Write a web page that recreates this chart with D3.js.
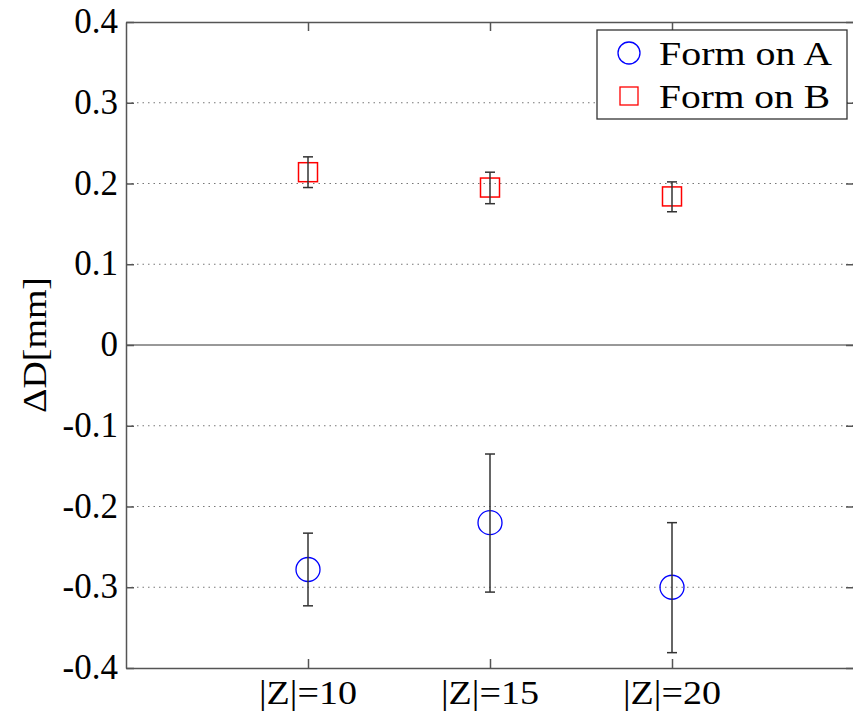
<!DOCTYPE html>
<html>
<head>
<meta charset="utf-8">
<script src="https://cdn.jsdelivr.net/npm/d3@7"></script>
<style>
body { margin: 0; background: #fff; }
</style>
</head>
<body>
<script>
// categories and measurements
var categories = ["|Z|=10", "|Z|=15", "|Z|=20"];
var formA = [-0.278, -0.220, -0.300];
var formALow = [-0.323, -0.306, -0.381];
var formAHigh = [-0.233, -0.135, -0.220];
var formB = [0.214, 0.195, 0.184];
var formBLow = [0.195, 0.175, 0.165];
var formBHigh = [0.233, 0.214, 0.202];
var yTicks = [-0.4, -0.3, -0.2, -0.1, 0, 0.1, 0.2, 0.3, 0.4];
var seriesNames = ["Form on A", "Form on B"];

var w = 853;
var h = 713;
var pLeft = 126, pTop = 22, pRight = 854, pBottom = 668;
var serif = "'Liberation Serif', 'DejaVu Serif', serif";

var svg = d3.select("body")
			.append("svg")
			.attr("width", w)
			.attr("height", h)
			.attr("font-family", serif);

var x = d3.scaleLinear().domain([0, 4]).range([pLeft, pRight]);
var y = d3.scaleLinear().domain([-0.4, 0.4]).range([pBottom, pTop]);

// dotted grid
svg.selectAll("line.grid")
	.data(yTicks.filter(function(d) { return d != 0 && Math.abs(d) < 0.4; }))
	.enter()
	.append("line")
	.attr("class", "grid")
	.attr("x1", pLeft)
	.attr("x2", pRight)
	.attr("y1", function(d) { return y(d); })
	.attr("y2", function(d) { return y(d); })
	.attr("stroke", "#777")
	.attr("stroke-width", 1.2)
	.attr("stroke-dasharray", "1.5,4");

// zero line
svg.append("line")
	.attr("x1", pLeft).attr("x2", pRight)
	.attr("y1", y(0)).attr("y2", y(0))
	.attr("stroke", "#333")
	.attr("stroke-width", 1);

// axes box with inward ticks
var yAxis = d3.axisLeft(y).tickValues(yTicks).tickSize(-8).tickFormat("").tickSizeOuter(0);
var yAxisR = d3.axisRight(y).tickValues(yTicks).tickSize(-8).tickFormat("").tickSizeOuter(0);
var xIdx = [1, 2, 3];
var xAxis = d3.axisBottom(x).tickValues(xIdx).tickSize(-9).tickFormat("").tickSizeOuter(0);
var xAxisT = d3.axisTop(x).tickValues(xIdx).tickSize(-9).tickFormat("").tickSizeOuter(0);

svg.append("g").attr("transform", "translate(" + pLeft + ",0)").call(yAxis);
svg.append("g").attr("transform", "translate(" + pRight + ",0)").call(yAxisR);
svg.append("g").attr("transform", "translate(0," + pBottom + ")").call(xAxis);
svg.append("g").attr("transform", "translate(0," + pTop + ")").call(xAxisT);
svg.selectAll(".domain, .tick line")
	.attr("stroke", "#555")
	.attr("stroke-width", 1.5);

// tick labels
svg.selectAll("text.ylab")
	.data(yTicks)
	.enter()
	.append("text")
	.attr("class", "ylab")
	.text(function(d) { return d == 0 ? "0" : d.toFixed(1); })
	.attr("text-anchor", "end")
	.attr("x", 118)
	.attr("y", function(d) { return y(d) + 11; })
	.attr("font-family", serif)
	.attr("font-size", "35px")
	.attr("fill", "#000");

svg.selectAll("text.xlab")
	.data(categories)
	.enter()
	.append("text")
	.attr("class", "xlab")
	.text(function(d) { return d; })
	.attr("text-anchor", "middle")
	.attr("x", function(d, i) { return x(i + 1); })
	.attr("y", 704)
	.attr("font-family", serif)
	.attr("font-size", "33px")
	.attr("textLength", 98)
	.attr("lengthAdjust", "spacingAndGlyphs")
	.attr("fill", "#000");

svg.append("text")
	.text("ΔD[mm]")
	.attr("text-anchor", "middle")
	.attr("transform", "translate(46," + y(0) + ") rotate(-90)")
	.attr("font-family", serif)
	.attr("font-size", "33px")
	.attr("textLength", 136)
	.attr("lengthAdjust", "spacingAndGlyphs")
	.attr("fill", "#000");

// error bars
function errorBars(lo, hi) {
	var g = svg.append("g");
	lo.forEach(function(d, i) {
		var cx = x(i + 1);
		g.append("line").attr("x1", cx).attr("x2", cx).attr("y1", y(lo[i])).attr("y2", y(hi[i]));
		g.append("line").attr("x1", cx - 5).attr("x2", cx + 5).attr("y1", y(lo[i])).attr("y2", y(lo[i]));
		g.append("line").attr("x1", cx - 5).attr("x2", cx + 5).attr("y1", y(hi[i])).attr("y2", y(hi[i]));
	});
	g.selectAll("line").attr("stroke", "#333").attr("stroke-width", 1.5);
}

// markers
svg.selectAll("rect.b")
	.data(formB)
	.enter()
	.append("rect")
	.attr("class", "b")
	.attr("x", function(d, i) { return x(i + 1) - 9.5; })
	.attr("y", function(d) { return y(d) - 9.5; })
	.attr("width", 19)
	.attr("height", 19)
	.attr("fill", "none")
	.attr("stroke", "#f00")
	.attr("stroke-width", 1.5);
errorBars(formBLow, formBHigh);

svg.selectAll("circle.a")
	.data(formA)
	.enter()
	.append("circle")
	.attr("class", "a")
	.attr("cx", function(d, i) { return x(i + 1); })
	.attr("cy", function(d) { return y(d); })
	.attr("r", 12)
	.attr("fill", "none")
	.attr("stroke", "#00f")
	.attr("stroke-width", 1.3);
errorBars(formALow, formAHigh);

// legend
var lg = svg.append("g");
lg.append("rect")
	.attr("x", 597).attr("y", 30)
	.attr("width", 250).attr("height", 89)
	.attr("fill", "#fff")
	.attr("stroke", "#333")
	.attr("stroke-width", 1.3);
lg.append("circle")
	.attr("cx", 629).attr("cy", 53).attr("r", 11)
	.attr("fill", "none").attr("stroke", "#00f").attr("stroke-width", 1.3);
lg.append("rect")
	.attr("x", 620).attr("y", 87).attr("width", 18).attr("height", 18)
	.attr("fill", "none").attr("stroke", "#f00").attr("stroke-width", 1.3);
lg.selectAll("text")
	.data(seriesNames)
	.enter()
	.append("text")
	.text(function(d) { return d; })
	.attr("x", 659)
	.attr("y", function(d, i) { return 65 + i * 43; })
	.attr("font-family", serif)
	.attr("font-size", "33px")
	.attr("textLength", function(d, i) { return i == 0 ? 173 : 171; })
	.attr("lengthAdjust", "spacingAndGlyphs")
	.attr("fill", "#000");
</script>
</body>
</html>
